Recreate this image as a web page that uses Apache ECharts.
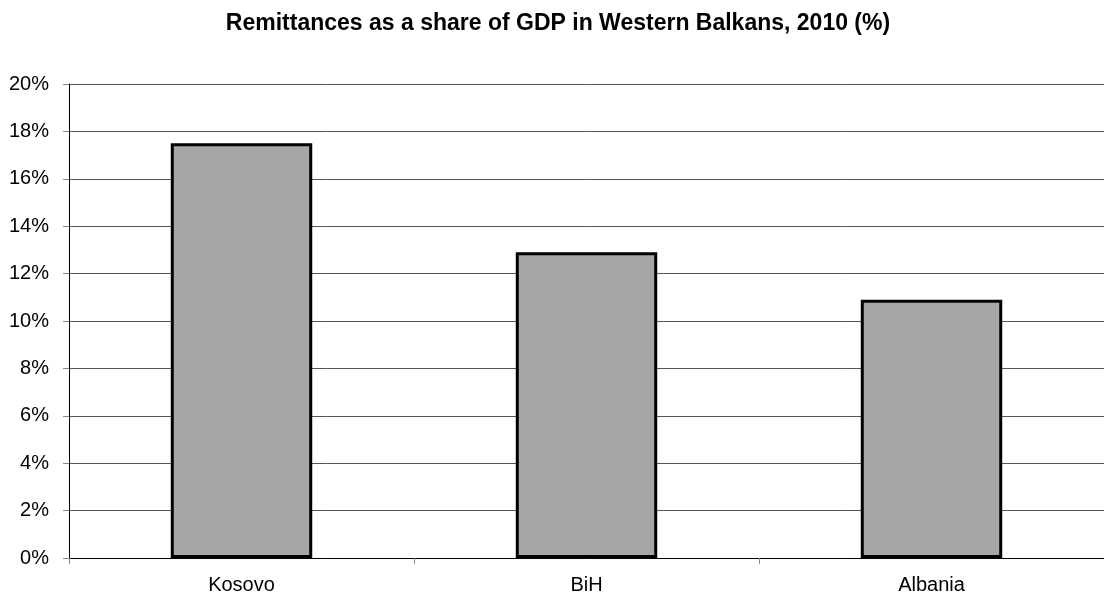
<!DOCTYPE html>
<html><head><meta charset="utf-8">
<script src="https://cdn.jsdelivr.net/npm/echarts@6/dist/echarts.min.js"></script>
<style>html,body{margin:0;padding:0;background:#fff}#c{width:1104px;height:597px}</style>
</head><body><div id="c"></div>
<script>
const categories = ["Kosovo", "BiH", "Albania"];
const values = [17.5, 12.9, 10.9];
const titleText = "Remittances as a share of GDP in Western Balkans, 2010 (%)";

const chart = echarts.init(document.getElementById('c'));
chart.setOption({
  animation: false,
  backgroundColor: '#fff',
  title: {
    text: titleText, left: 553, top: 7, textAlign: 'center',
    textStyle: {fontFamily: 'Liberation Sans, Arial', fontSize: 23, fontWeight: 'bold', color: '#000'}
  },
  grid: {left: 69, right: -5, top: 84, bottom: 39, containLabel: false},
  xAxis: {
    type: 'category', data: categories,
    axisLine: {lineStyle: {color: '#000', width: 1}},
    axisTick: {show: true, alignWithLabel: false, length: 6, lineStyle: {color: '#888'}},
    axisLabel: {color: '#000', fontFamily: 'Liberation Sans, Arial', fontSize: 20, margin: 17}
  },
  yAxis: {
    type: 'value', min: 0, max: 20, interval: 2,
    axisLine: {show: true, lineStyle: {color: '#000', width: 1}},
    axisTick: {show: true, length: 6, lineStyle: {color: '#888'}},
    splitLine: {lineStyle: {color: '#555', width: 1}},
    axisLabel: {color: '#000', fontFamily: 'Liberation Sans, Arial', fontSize: 20, margin: 20,
      formatter: v => v + '%'}
  },
  series: [{
    type: 'bar', data: values, barWidth: '41%',
    itemStyle: {color: '#a6a6a6', borderColor: '#000', borderWidth: 3}
  }]
});
</script></body></html>
